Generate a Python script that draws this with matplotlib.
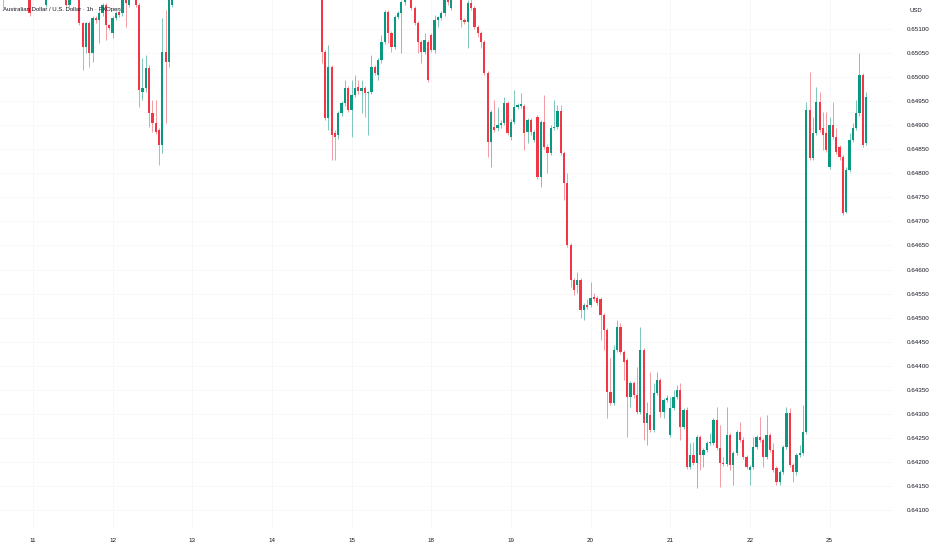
import numpy as np
import matplotlib
matplotlib.use("Agg")
import matplotlib.pyplot as plt

# AUD/USD 1h candles, one entry per hourly bar; na = bar outside the visible price range
na = None

opens = [
    0.65180, na, na, na, na, na, na, na, 0.65175, na,
    na, na, na, 0.65150, na, na, na, na, na, 0.65170,
    0.65150, na, na, 0.65168, 0.65112, 0.65063, 0.65112, 0.65050, 0.65123, 0.65119,
    0.65133, 0.65150, 0.65108, 0.65092, 0.65123, 0.65135, 0.65133, 0.65170, 0.65150, na,
    0.65165, 0.65150, 0.64969, 0.64977, 0.65019, 0.64925, 0.64905, 0.64890, 0.64859, 0.65052,
    0.65031, 0.65150] + [na] * 44 + [
    0.65170, 0.65052, 0.64915, 0.65021,
    0.64884, 0.64880, 0.64925, 0.64946, 0.64977, 0.64932, 0.64963, 0.64979, 0.64971, 0.64977,
    0.64967, 0.64969, 0.65021, 0.65004, 0.65036, 0.65073, 0.65135, 0.65092, 0.65063, 0.65125,
    0.65133, 0.65156, na, 0.65170, 0.65144, 0.65112, 0.65073, 0.65052, 0.65073, 0.65088,
    0.65056, 0.65119, 0.65123, 0.65133, 0.65165, 0.65144, na, na, 0.65170, 0.65119,
    0.65115, 0.65154, 0.65144, 0.65104, 0.65092, 0.65073, 0.65009, 0.64865, 0.64896, 0.64894,
    0.64900, 0.64905, 0.64946, 0.64875, 0.64907, 0.64938, 0.64940, 0.64940, 0.64886, 0.64911,
    0.64869, 0.64917, 0.64792, 0.64907, 0.64855, 0.64842, 0.64894, 0.64896, 0.64930, 0.64842,
    0.64780, 0.64651, 0.64578, 0.64568, 0.64578, 0.64516, 0.64526, 0.64526, 0.64543, 0.64541,
    0.64538, 0.64505, 0.64474, 0.64345, 0.64322, 0.64433, 0.64480, 0.64428, 0.64412, 0.64335,
    0.64364, 0.64339, 0.64304, 0.64433, 0.64281, 0.64297, 0.64266, 0.64343, 0.64370, 0.64304,
    0.64329, 0.64256, 0.64312, 0.64335, 0.64349, 0.64273, 0.64308, 0.64190, 0.64214, 0.64198,
    0.64252, 0.64214, 0.64225, 0.64240, 0.64240, 0.64287, 0.64229, 0.64198, 0.64196, 0.64256,
    0.64194, 0.64219, 0.64262, 0.64246, 0.64210, 0.64183, 0.64190, 0.64231, 0.64252, 0.64246,
    0.64210, 0.64256, 0.64225, 0.64187, 0.64158, 0.64179, 0.64231, 0.64302, 0.64194, 0.64179,
    0.64214, 0.64219, 0.64262, 0.64932, 0.64832, 0.64884, 0.64948, 0.64894, 0.64884, 0.64813,
    0.64900, 0.64875, 0.64855, 0.64834, 0.64720, 0.64807, 0.64869, 0.64894, 0.64925, 0.65004,
    0.64863]

highs = [
    0.65190, na, na, na, na, na, na, na, 0.65180, na,
    na, na, na, 0.65175, na, na, na, na, na, 0.65175,
    0.65172, na, na, 0.65175, 0.65115, 0.65115, 0.65116, 0.65128, 0.65127, 0.65138,
    0.65155, 0.65154, 0.65110, 0.65127, 0.65137, 0.65140, 0.65170, 0.65175, 0.65170, na,
    0.65170, 0.65154, 0.65040, 0.65046, 0.65025, 0.64952, 0.64952, 0.64895, 0.65123, 0.65140,
    0.65170, 0.65170] + [na] * 44 + [
    0.65175, 0.65056, 0.65067, 0.65025,
    0.64890, 0.64930, 0.64950, 0.64994, 0.64982, 0.64994, 0.65004, 0.64994, 0.64994, 0.64982,
    0.64972, 0.65046, 0.65025, 0.65040, 0.65088, 0.65140, 0.65140, 0.65096, 0.65130, 0.65138,
    0.65160, 0.65175, na, 0.65175, 0.65148, 0.65116, 0.65077, 0.65092, 0.65078, 0.65092,
    0.65129, 0.65128, 0.65138, 0.65170, 0.65175, 0.65170, na, na, 0.65175, 0.65123,
    0.65160, 0.65165, 0.65148, 0.65108, 0.65096, 0.65078, 0.65013, 0.64932, 0.64952, 0.64938,
    0.64910, 0.64959, 0.64950, 0.64912, 0.64973, 0.64946, 0.64967, 0.64944, 0.64916, 0.64915,
    0.64890, 0.64922, 0.64911, 0.64963, 0.64860, 0.64900, 0.64952, 0.64942, 0.64942, 0.64846,
    0.64801, 0.64655, 0.64582, 0.64595, 0.64582, 0.64530, 0.64538, 0.64574, 0.64551, 0.64545,
    0.64542, 0.64510, 0.64478, 0.64416, 0.64443, 0.64495, 0.64489, 0.64432, 0.64416, 0.64368,
    0.64368, 0.64398, 0.64480, 0.64437, 0.64325, 0.64387, 0.64364, 0.64387, 0.64374, 0.64333,
    0.64340, 0.64335, 0.64349, 0.64360, 0.64364, 0.64312, 0.64314, 0.64240, 0.64242, 0.64256,
    0.64256, 0.64229, 0.64244, 0.64260, 0.64291, 0.64314, 0.64277, 0.64210, 0.64314, 0.64260,
    0.64223, 0.64266, 0.64283, 0.64252, 0.64214, 0.64194, 0.64252, 0.64256, 0.64293, 0.64250,
    0.64297, 0.64260, 0.64240, 0.64191, 0.64183, 0.64235, 0.64314, 0.64312, 0.64198, 0.64218,
    0.64235, 0.64318, 0.64948, 0.65011, 0.64917, 0.64979, 0.64969, 0.64927, 0.64927, 0.64917,
    0.64948, 0.64894, 0.64859, 0.64838, 0.64813, 0.64884, 0.64905, 0.64952, 0.65050, 0.65009,
    0.64969]

lows = [
    0.65144, na, na, na, na, na, na, na, 0.65128, na,
    na, na, na, 0.65145, na, na, na, na, na, 0.65148,
    0.65146, na, na, 0.65108, 0.65015, 0.65050, 0.65021, 0.65031, 0.65112, 0.65071,
    0.65128, 0.65077, 0.65098, 0.65081, 0.65118, 0.65125, 0.65128, 0.65104, 0.65145, na,
    0.65146, 0.64938, 0.64952, 0.64970, 0.64896, 0.64886, 0.64882, 0.64817, 0.64842, 0.64905,
    0.65021, 0.65145] + [na] * 44 + [
    0.65029, 0.64910, 0.64890, 0.64828,
    0.64828, 0.64872, 0.64920, 0.64940, 0.64928, 0.64875, 0.64958, 0.64965, 0.64925, 0.64917,
    0.64880, 0.64965, 0.65005, 0.64994, 0.65030, 0.65068, 0.65071, 0.65052, 0.65058, 0.65120,
    0.65050, 0.65150, na, 0.65140, 0.65108, 0.65050, 0.65029, 0.65048, 0.64990, 0.65052,
    0.65050, 0.65104, 0.65118, 0.65128, 0.65150, 0.65140, na, na, 0.65104, 0.65110,
    0.65060, 0.65140, 0.65100, 0.65083, 0.65060, 0.65005, 0.64834, 0.64813, 0.64886, 0.64888,
    0.64895, 0.64900, 0.64880, 0.64870, 0.64902, 0.64933, 0.64935, 0.64848, 0.64863, 0.64880,
    0.64865, 0.64788, 0.64772, 0.64850, 0.64801, 0.64838, 0.64890, 0.64892, 0.64838, 0.64744,
    0.64646, 0.64564, 0.64547, 0.64551, 0.64499, 0.64495, 0.64518, 0.64522, 0.64534, 0.64526,
    0.64453, 0.64433, 0.64291, 0.64318, 0.64318, 0.64428, 0.64424, 0.64370, 0.64252, 0.64314,
    0.64333, 0.64300, 0.64300, 0.64246, 0.64235, 0.64262, 0.64262, 0.64339, 0.64293, 0.64291,
    0.64324, 0.64252, 0.64308, 0.64331, 0.64246, 0.64268, 0.64186, 0.64186, 0.64194, 0.64146,
    0.64183, 0.64190, 0.64221, 0.64236, 0.64236, 0.64225, 0.64148, 0.64192, 0.64192, 0.64183,
    0.64152, 0.64215, 0.64242, 0.64206, 0.64186, 0.64152, 0.64186, 0.64227, 0.64242, 0.64190,
    0.64206, 0.64221, 0.64179, 0.64152, 0.64152, 0.64175, 0.64227, 0.64190, 0.64158, 0.64173,
    0.64210, 0.64215, 0.64258, 0.64828, 0.64828, 0.64880, 0.64886, 0.64848, 0.64844, 0.64809,
    0.64871, 0.64840, 0.64828, 0.64713, 0.64717, 0.64803, 0.64865, 0.64890, 0.64920, 0.64855,
    0.64859]

closes = [
    0.65170, na, na, na, na, na, na, na, 0.65133, na,
    na, na, na, 0.65170, na, na, na, na, na, 0.65150,
    0.65168, na, na, 0.65112, 0.65063, 0.65112, 0.65050, 0.65123, 0.65119, 0.65133,
    0.65150, 0.65108, 0.65102, 0.65123, 0.65133, 0.65129, 0.65165, 0.65155, 0.65165, na,
    0.65150, 0.64973, 0.64977, 0.65019, 0.64925, 0.64905, 0.64886, 0.64859, 0.65052, 0.65031,
    0.65165, 0.65165] + [na] * 44 + [
    0.65052, 0.64915, 0.65021, 0.64880,
    0.64875, 0.64925, 0.64946, 0.64977, 0.64932, 0.64963, 0.64977, 0.64971, 0.64977, 0.64967,
    0.64969, 0.65021, 0.65009, 0.65036, 0.65073, 0.65135, 0.65092, 0.65063, 0.65125, 0.65133,
    0.65156, 0.65165, na, 0.65144, 0.65112, 0.65073, 0.65052, 0.65077, 0.64994, 0.65056,
    0.65119, 0.65125, 0.65133, 0.65165, 0.65156, 0.65165, na, na, 0.65119, 0.65115,
    0.65154, 0.65144, 0.65104, 0.65092, 0.65073, 0.65009, 0.64865, 0.64927, 0.64890, 0.64900,
    0.64905, 0.64946, 0.64884, 0.64907, 0.64938, 0.64942, 0.64944, 0.64884, 0.64911, 0.64886,
    0.64886, 0.64792, 0.64907, 0.64855, 0.64842, 0.64894, 0.64896, 0.64930, 0.64842, 0.64780,
    0.64651, 0.64578, 0.64557, 0.64578, 0.64516, 0.64526, 0.64522, 0.64541, 0.64538, 0.64530,
    0.64505, 0.64474, 0.64345, 0.64322, 0.64433, 0.64480, 0.64428, 0.64408, 0.64335, 0.64364,
    0.64339, 0.64304, 0.64433, 0.64281, 0.64302, 0.64266, 0.64343, 0.64370, 0.64304, 0.64329,
    0.64333, 0.64312, 0.64335, 0.64349, 0.64273, 0.64308, 0.64190, 0.64214, 0.64198, 0.64252,
    0.64214, 0.64225, 0.64240, 0.64242, 0.64287, 0.64229, 0.64198, 0.64196, 0.64256, 0.64194,
    0.64219, 0.64262, 0.64246, 0.64210, 0.64190, 0.64190, 0.64231, 0.64252, 0.64246, 0.64210,
    0.64256, 0.64225, 0.64183, 0.64158, 0.64179, 0.64231, 0.64302, 0.64194, 0.64179, 0.64214,
    0.64219, 0.64262, 0.64932, 0.64832, 0.64884, 0.64948, 0.64890, 0.64880, 0.64848, 0.64900,
    0.64875, 0.64844, 0.64834, 0.64717, 0.64807, 0.64869, 0.64894, 0.64925, 0.65004, 0.64859,
    0.64959]

day_labels = ["11", "12", "13", "14", "15", "18", "19", "20", "21", "22", "25"]
price_ticks = [0.64100 + 0.0005 * i for i in range(21)]

title = "Australian Dollar / U.S. Dollar \u00b7 1h \u00b7 FXOpen"

o = np.array(opens, dtype=float)
h = np.array(highs, dtype=float)
l = np.array(lows, dtype=float)
c = np.array(closes, dtype=float)
x = np.arange(len(o))
ok = ~np.isnan(o)

up_col = "#089981"
dn_col = "#f23645"
up_wick = "#7cc7b8"
dn_wick = "#f59aa3"

plt.rcParams['font.family'] = ['Liberation Sans', 'DejaVu Sans']

fig = plt.figure(figsize=(9.32, 5.5), dpi=100)
ax = fig.add_axes([0, 1 - 528 / 550, 893 / 932, 528 / 550])

up = ok & (c >= o)
dn = ok & (c < o)

# faint grid
for p in price_ticks:
    ax.axhline(p, color="#f6f7f9", lw=0.6, zorder=0)
day_pos = [9 + 24 * i for i in range(len(day_labels))]
for d in day_pos:
    ax.axvline(d, color="#f6f7f9", lw=0.6, zorder=0)

# wicks
ax.vlines(x[up], l[up], h[up], colors=up_wick, lw=0.7, zorder=1)
ax.vlines(x[dn], l[dn], h[dn], colors=dn_wick, lw=0.7, zorder=1)

# bodies
body_lo = np.fmin(o, c)
body_h = np.fmax(np.abs(c - o), 0.000012)
ax.bar(x[up], body_h[up], bottom=body_lo[up], width=0.68, color=up_col, lw=0, zorder=2)
ax.bar(x[dn], body_h[dn], bottom=body_lo[dn], width=0.68, color=dn_col, lw=0, zorder=2)

ax.set_xlim(-0.9, 268.1)
ax.set_ylim(0.640626, 0.651603)

for s in ax.spines.values():
    s.set_visible(False)

ax.yaxis.tick_right()
ax.set_yticks(price_ticks)
ax.set_yticklabels(["%.5f" % p for p in price_ticks])
ax.set_xticks(day_pos)
ax.set_xticklabels(day_labels)
ax.tick_params(axis="y", length=0, pad=10, labelsize=4.5, labelcolor="#131722")
ax.tick_params(axis="x", length=0, pad=7.5, labelsize=4.5, labelcolor="#131722")

fig.text(3 / 932, 1 - 10 / 550, title, fontsize=4.3, color="#131722",
         ha="left", va="center", zorder=5)
fig.text(909 / 932, 1 - 10 / 550, "USD", fontsize=4.3, color="#131722",
         ha="left", va="center")

fig.savefig("out.png", dpi=100)
